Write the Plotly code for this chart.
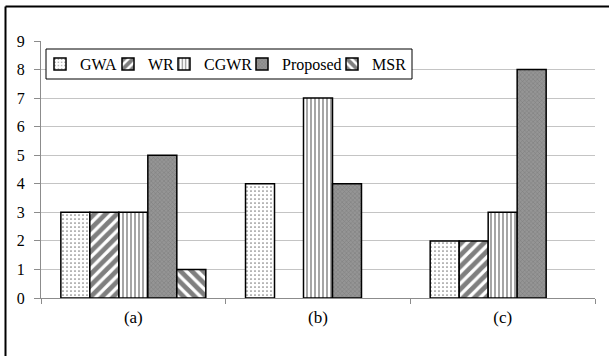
import plotly.graph_objects as go

categories = ["(a)", "(b)", "(c)"]
series_names = ["GWA", "WR", "CGWR", "Proposed", "MSR"]
gwa = [3, 4, 2]
wr = [3, 0, 2]
cgwr = [3, 7, 3]
proposed = [5, 4, 8]
msr = [1, 0, 0]
y_ticks = list(range(0, 10))

values = [gwa, wr, cgwr, proposed, msr]
styles = [
    dict(bgcolor="white", fgcolor="black", shape=".", size=4, solidity=0.15),
    dict(bgcolor="white", fgcolor="black", shape="/", size=8, solidity=0.6),
    dict(bgcolor="white", fgcolor="black", shape="|", size=4, solidity=0.35),
    dict(bgcolor="#959595", fgcolor="#606060", shape="x", size=3, solidity=0.3),
    dict(bgcolor="white", fgcolor="black", shape="\\", size=8, solidity=0.6),
]

# plot area in page pixels
L, R, T, B = 41, 595, 41, 298
W, H = R - L, B - T
def px(x):
    return (x - L) / W
def py(y):
    return 1 - (y - T) / H

font = "Liberation Serif"
legend_sym_centers = [60, 128, 184, 262, 352]  # page px of legend swatches

fig = go.Figure()
legend_layouts = {}
for i, (name, vals, st) in enumerate(zip(series_names, values, styles)):
    lname = "legend" if i == 0 else f"legend{i + 1}"
    fig.add_trace(go.Bar(
        x=categories, y=vals, name=name, legend=lname,
        marker=dict(color=st["bgcolor"],
                    line=dict(color="black", width=[0 if v == 0 else 1.5 for v in vals]),
                    pattern=dict(shape=st["shape"], fgcolor=st["fgcolor"],
                                 bgcolor=st["bgcolor"], size=st["size"],
                                 solidity=st["solidity"], fillmode="overlay")),
    ))
    legend_layouts[lname] = dict(
        orientation="h", x=px(legend_sym_centers[i] - 20), y=py(64),
        xanchor="left", yanchor="middle", borderwidth=0,
        bgcolor="rgba(0,0,0,0)", font=dict(family=font, size=16, color="black"),
        itemwidth=30)

fig.update_layout(
    width=609, height=356,
    margin=dict(l=L, r=609 - R, t=T, b=356 - B),
    paper_bgcolor="white", plot_bgcolor="white",
    barmode="group", bargap=0.215, bargroupgap=0,
    font=dict(family=font, size=15, color="black"),
    showlegend=True,
    xaxis=dict(showline=True, linecolor="#8c8c8c", linewidth=1,
               ticks="outside", tickson="boundaries", ticklen=5, tickcolor="#8c8c8c",
               ticklabelstandoff=4,
               showgrid=False, tickfont=dict(family=font, size=17)),
    yaxis=dict(range=[0, 9], tickvals=y_ticks, showline=True, linecolor="#8c8c8c",
               linewidth=1, ticks="outside", ticklen=6, tickcolor="#8c8c8c",
               ticklabelstandoff=6,
               showgrid=True, gridcolor="#c4c4c4", gridwidth=1, zeroline=False,
               tickfont=dict(family=font, size=16)),
    shapes=[
        dict(type="rect", xref="paper", yref="paper", layer="above",
             x0=px(46), x1=px(412), y0=py(49), y1=py(79),
             line=dict(color="black", width=1), fillcolor="white"),
        dict(type="line", xref="paper", yref="paper", x0=px(5.5), x1=px(612),
             y0=py(6.5), y1=py(6.5), line=dict(color="black", width=2)),
        dict(type="line", xref="paper", yref="paper", x0=px(5.5), x1=px(5.5),
             y0=py(6.5), y1=py(360), line=dict(color="black", width=2)),
    ],
    **legend_layouts,
)
fig.write_html("out.html", config={"displayModeBar": False},
               post_script="document.body.style.margin='0';")
